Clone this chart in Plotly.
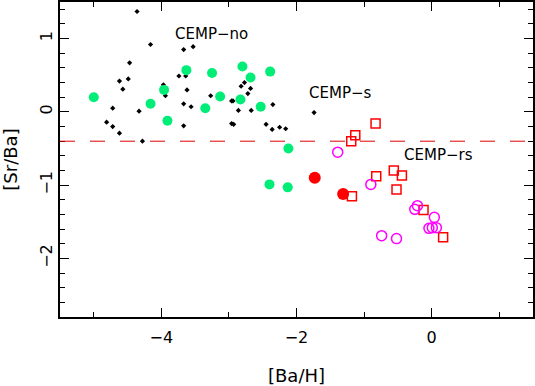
import plotly.graph_objects as go

# CEMP-no stars (small black dots)
no_x = [-4.36, -4.16, -4.47, -4.62, -4.57, -4.49, -4.72, -4.81, -4.72, -4.62, -4.33, -4.28,
        -3.67, -3.53, -3.74, -3.64, -3.97, -3.94, -3.62, -3.67, -3.56, -3.67, -3.27,
        -2.96, -2.94, -2.86, -2.67, -2.96, -2.93, -2.77, -2.82, -2.68, -2.72,
        -2.35, -2.45, -2.36, -2.25, -2.16, -1.74]
no_y = [1.37, 0.92, 0.67, 0.42, 0.31, 0.45, 0.05, -0.14, -0.20, -0.29, 0.01, -0.40,
        0.85, 0.89, 0.49, 0.49, 0.37, 0.22, 0.30, 0.11, 0.07, -0.19, 0.22,
        0.15, 0.15, 0.02, 0.02, -0.16, -0.17, 0.40, 0.35, 0.32, 0.25,
        0.10, -0.17, -0.24, -0.21, -0.23, -0.01]

# green filled circles
green_x = [-5.00, -4.16, -3.96, -3.91, -3.63, -3.25, -3.35, -3.13, -2.80, -2.68, -2.83,
           -2.53, -2.39, -2.12, -2.40, -2.13]
green_y = [0.20, 0.11, 0.30, -0.12, 0.57, 0.53, 0.05, 0.21, 0.62, 0.47, 0.17,
           0.07, 0.55, -0.50, -0.99, -1.03]

# red filled circles
red_x = [-1.73, -1.31]
red_y = [-0.90, -1.12]

# CEMP-s red open squares
sq_x = [-0.83, -1.13, -1.19, -0.82, -0.56, -0.44, -0.52, -1.18, -0.12, 0.17]
sq_y = [-0.16, -0.32, -0.40, -0.88, -0.80, -0.87, -1.06, -1.15, -1.34, -1.71]

# CEMP-rs magenta open circles
rs_x = [-1.39, -0.90, -0.21, -0.25, 0.04, -0.04, 0.01, 0.07, -0.74, -0.52]
rs_y = [-0.55, -0.99, -1.28, -1.33, -1.44, -1.59, -1.58, -1.58, -1.69, -1.73]

labels = ["CEMP\u2212no", "CEMP\u2212s", "CEMP\u2212rs"]
label_x = [-3.26, -1.35, 0.10]
label_y = [1.06, 0.26, -0.59]

split_level = -0.4

fig = go.Figure()

fig.add_trace(go.Scatter(x=no_x, y=no_y, mode="markers",
                         marker=dict(symbol="diamond", size=4, color="black")))
fig.add_trace(go.Scatter(x=green_x, y=green_y, mode="markers",
                         marker=dict(symbol="circle", size=10, color="#00ee78")))
fig.add_trace(go.Scatter(x=red_x, y=red_y, mode="markers",
                         marker=dict(symbol="circle", size=12, color="#ff0000")))
fig.add_trace(go.Scatter(x=sq_x, y=sq_y, mode="markers",
                         marker=dict(symbol="square-open", size=9, color="#ff0000",
                                     line=dict(width=1.5))))
fig.add_trace(go.Scatter(x=rs_x, y=rs_y, mode="markers",
                         marker=dict(symbol="circle-open", size=10, color="#ff00ff",
                                     line=dict(width=1.5))))

fig.add_hline(y=split_level, line=dict(color="#e00000", width=1, dash="15px,15px"))

for t, x, y in zip(labels, label_x, label_y):
    fig.add_annotation(x=x, y=y, text=t, showarrow=False,
                       font=dict(size=15, color="black"))

axis_common = dict(showgrid=False, zeroline=False, showline=True, linecolor="black",
                   linewidth=1.5, mirror="ticks", ticks="inside", ticklen=9,
                   tickcolor="black", tickwidth=1, automargin=False,
                   tickfont=dict(size=16, color="black"))

fig.update_xaxes(range=[-5.5, 1.5], tick0=0, dtick=2, ticklabelstandoff=5,
                 minor=dict(dtick=1, tick0=0, ticks="inside", ticklen=5, tickcolor="black"),
                 title=dict(text="[Ba/H]", font=dict(size=18, color="black"), standoff=30),
                 **axis_common)
fig.update_yaxes(range=[-2.8, 1.5], tick0=0, dtick=1, tickangle=-90,
                 minor=dict(dtick=0.2, tick0=0, ticks="inside", ticklen=5, tickcolor="black"),
                 title=dict(text="[Sr/Ba]", font=dict(size=18, color="black"), standoff=15),
                 **axis_common)

fig.update_layout(width=535, height=386, showlegend=False,
                  margin=dict(l=60, r=2, t=2, b=69),
                  paper_bgcolor="white", plot_bgcolor="white",
                  font=dict(family="DejaVu Sans"))

# drop the browser's default page margin so the figure sits at the window origin
fig.write_html("out.html", config={"displayModeBar": False},
               post_script="document.body.style.margin='0';")
